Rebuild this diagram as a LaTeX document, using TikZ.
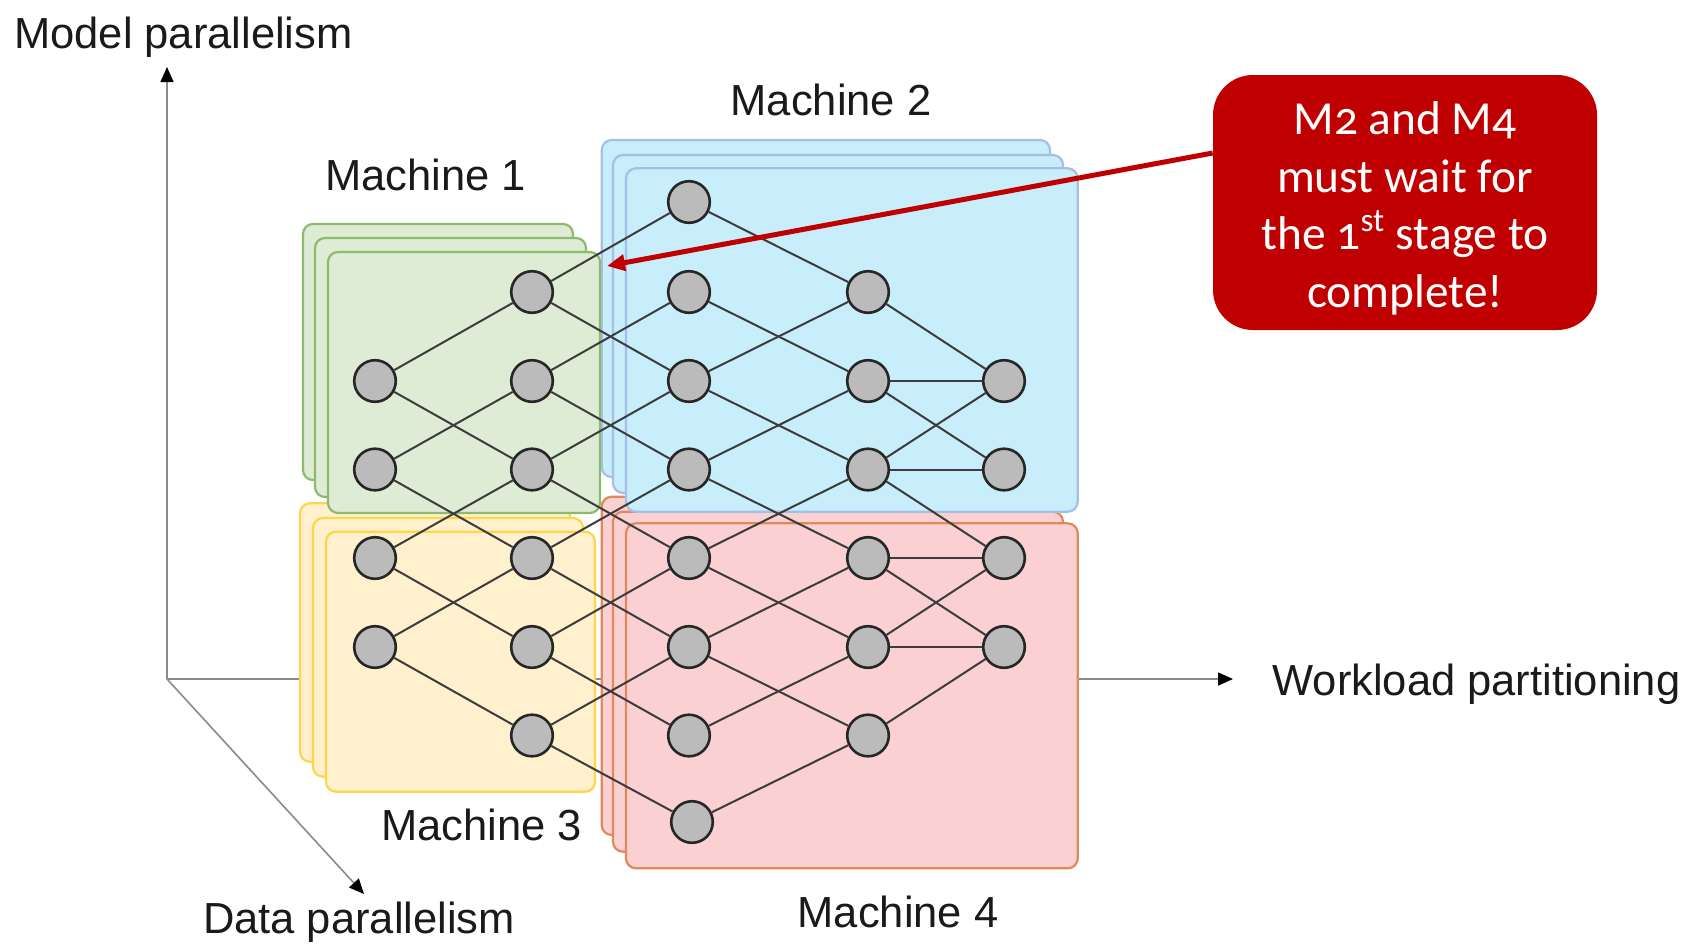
\documentclass[tikz,border=0pt]{standalone}
\usepackage{fontspec}
\setmainfont{Liberation Sans}
\newfontfamily\callfont[Numbers=OldStyle]{Carlito}
\usetikzlibrary{arrows.meta}
\definecolor{gfill}{HTML}{DEEBD5}
\definecolor{gline}{HTML}{8CBB6E}
\definecolor{bfill}{HTML}{C8EDFB}
\definecolor{bline}{HTML}{A6BFE6}
\definecolor{yfill}{HTML}{FFF1CE}
\definecolor{yline}{HTML}{FFD54A}
\definecolor{rfill}{HTML}{FBD0D2}
\definecolor{rline}{HTML}{DF8A5C}
\definecolor{nfill}{HTML}{BBBBBB}
\definecolor{nline}{HTML}{262626}
\definecolor{linkc}{HTML}{3C3C3C}
\definecolor{axisc}{HTML}{8A8A8A}
\definecolor{callred}{HTML}{C00000}
\definecolor{txt}{HTML}{1A1A1A}
\begin{document}
\begin{tikzpicture}[x=0.5pt,y=-0.5pt,
  gbox/.style={draw=gline,fill=gfill,line width=1.1pt,rounded corners=5pt},
  bbox/.style={draw=bline,fill=bfill,line width=1.1pt,rounded corners=5pt},
  ybox/.style={draw=yline,fill=yfill,line width=1.1pt,rounded corners=5pt},
  rbox/.style={draw=rline,fill=rfill,line width=1.1pt,rounded corners=5pt},
  neuron/.style={circle,draw=nline,fill=nfill,line width=1.3pt,minimum size=20.8pt,inner sep=0pt},
  link/.style={draw=linkc,line width=1pt},
  axisline/.style={draw=axisc,line width=0.8pt,-{Triangle[length=7.5pt,width=6.5pt,color=black]}},
  lbl/.style={font=\fontsize{21.75}{26}\selectfont,text=txt,anchor=base,inner sep=0pt},
  callbox/.style={fill=callred,rounded corners=20pt,minimum width=192pt,minimum height=127.5pt,inner sep=0pt},
  calltext/.style={text=white,align=center,inner sep=0pt,font=\callfont\fontsize{23.7}{28.75}\selectfont},
  redarrow/.style={draw=callred,line width=2.5pt,-{Triangle[length=9pt,width=8pt]}}
]
\useasboundingbox (0,0) rectangle (1689,943);
\fill[white] (0,0) rectangle (1689,943);

% axes
\coordinate (origin) at (167,679);
\coordinate (ytip) at (167,67);
\coordinate (xtip) at (1233,679);
\coordinate (ztip) at (364,894);
\draw[axisline] (origin) -- (ytip);
\draw[axisline] (origin) -- (xtip);
\draw[axisline] (origin) -- (ztip);

% machine 4 (red)
\draw[rbox] (601.7,496.7) rectangle (1050,835);
\draw[rbox] (613,511.7) rectangle (1063,851.7);
\draw[rbox] (626,523.3) rectangle (1077.7,868.3);
% machine 3 (yellow)
\draw[ybox] (300,503.3) rectangle (570,761.7);
\draw[ybox] (313,518) rectangle (583,776.7);
\draw[ybox] (326,531.7) rectangle (595,791.7);
% machine 2 (blue)
\draw[bbox] (601.7,140) rectangle (1050,477);
\draw[bbox] (613,155) rectangle (1063,493);
\draw[bbox] (626,168.3) rectangle (1077.7,511.7);
% machine 1 (green)
\draw[gbox] (303,224) rectangle (573,480);
\draw[gbox] (315,238) rectangle (586,497);
\draw[gbox] (328,252) rectangle (600,513);

% neurons
\foreach \r/\yy in {2/381,3/469.5,4/558,5/647} \node[neuron] (a\r) at (375,\yy) {};
\foreach \r/\yy in {1/292,2/381,3/469.5,4/558,5/647,6/735.5} \node[neuron] (b\r) at (532,\yy) {};
\foreach \r/\yy in {0/202,1/292,2/381,3/469.5,4/558,5/647,6/735.5} \node[neuron] (c\r) at (689,\yy) {};
\node[neuron] (c7) at (692,822) {};
\foreach \r/\yy in {1/292,2/381,3/469.5,4/558,5/647,6/735.5} \node[neuron] (d\r) at (868,\yy) {};
\foreach \r/\yy in {2/381,3/469.5,4/558,5/647} \node[neuron] (e\r) at (1004,\yy) {};

% links
\foreach \s/\t in {a2/b1,a2/b3,a3/b2,a3/b4,a4/b3,a4/b5,a5/b4,a5/b6,
  b1/c0,b1/c2,b2/c1,b2/c3,b3/c2,b3/c4,b4/c3,b4/c5,b5/c4,b5/c6,b6/c5,b6/c7,
  c0/d1,c1/d2,c2/d1,c2/d3,c3/d2,c3/d4,c4/d3,c4/d5,c5/d4,c5/d6,c6/d5,c7/d6,
  d1/e2,d2/e2,d2/e3,d3/e2,d3/e3,d3/e4,d4/e4,d4/e5,d5/e4,d5/e5,d6/e5}
  \draw[link] (\s) -- (\t);

% labels
\node[lbl] (lmodel) at (183.5,48) {Model parallelism};
\node[lbl] (lm2) at (831,115) {Machine 2};
\node[lbl] (lm1) at (425.5,190) {Machine 1};
\node[lbl] (lm3) at (481.5,840) {Machine 3};
\node[lbl] (lm4) at (898,927) {Machine 4};
\node[lbl] (ldata) at (359,933) {Data parallelism};
\node[lbl] (lwork) at (1476.5,695) {Workload partitioning};

% callout
\node[callbox] (call) at (1405,202.5) {};
\node[calltext] (ctext) at ([yshift=-3pt]call.center) {M2 and M4\\must wait for\\the 1\textsuperscript{st} stage to\\complete!};
\coordinate (tip) at (607,266);
\draw[redarrow] ([yshift=24.75pt]call.west) -- (tip);
\end{tikzpicture}
\end{document}
